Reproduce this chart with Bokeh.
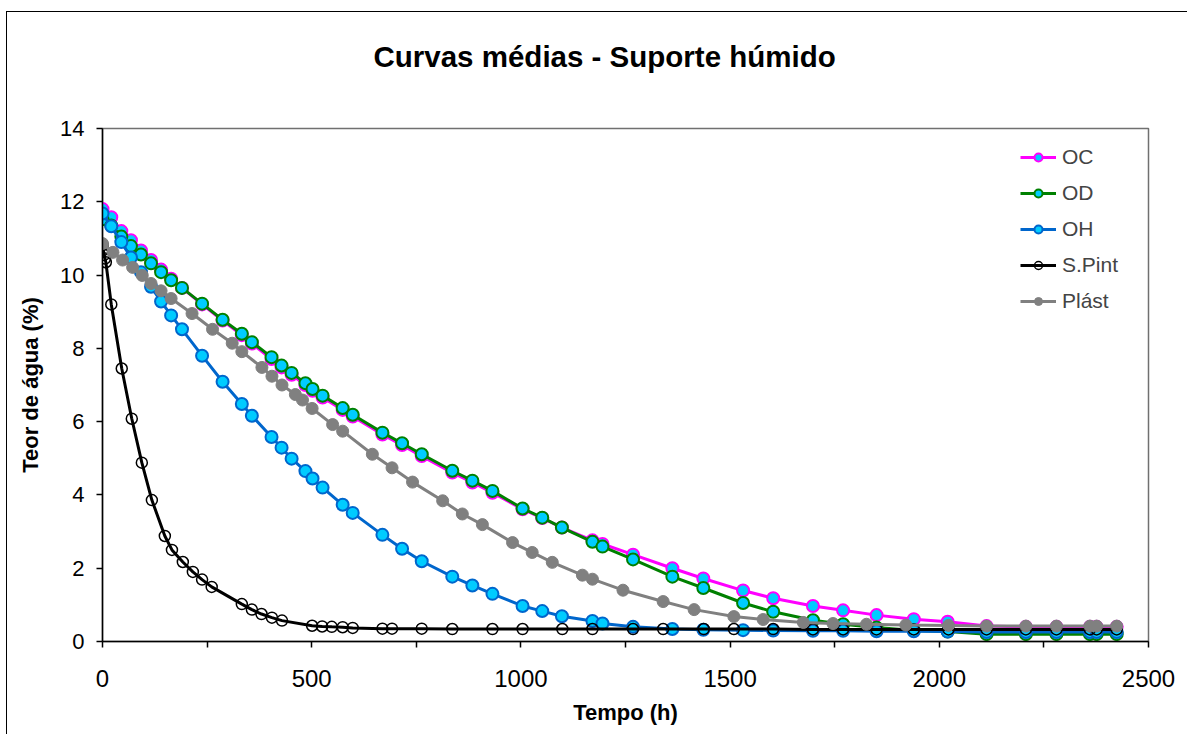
from bokeh.plotting import figure
from bokeh.models import Legend, LegendItem, FixedTicker, Range1d, LinearAxis
from bokeh.embed import file_html
from bokeh.resources import INLINE

# ---------------- data ----------------
series_names = ["OC", "OD", "OH", "S.Pint", "Plást"]

t_o = [0, 21, 45, 68, 92, 116, 140, 164, 190, 238, 287, 333, 357, 404, 428, 452, 485, 502, 526,
       574, 598, 669, 716, 763, 836, 884, 932, 1004, 1051, 1098, 1171, 1195, 1268, 1362, 1436, 1531,
       1603, 1698, 1770, 1850, 1939, 2020, 2113, 2207, 2280, 2360, 2376, 2424]

oc = [11.80, 11.58, 11.20, 10.95, 10.67, 10.41, 10.15, 9.90, 9.65, 9.20, 8.76, 8.36, 8.13, 7.71, 7.48,
      7.28, 7.00, 6.84, 6.66, 6.32, 6.14, 5.65, 5.36, 5.06, 4.61, 4.34, 4.06, 3.61, 3.37, 3.11, 2.76,
      2.66, 2.37, 2.00, 1.72, 1.39, 1.18, 0.97, 0.85, 0.72, 0.61, 0.54, 0.42, 0.40, 0.40, 0.40, 0.40, 0.40]

od = [11.52, 11.35, 11.05, 10.79, 10.56, 10.32, 10.08, 9.86, 9.65, 9.22, 8.78, 8.40, 8.17, 7.76, 7.53,
      7.33, 7.05, 6.89, 6.71, 6.37, 6.19, 5.70, 5.41, 5.11, 4.66, 4.39, 4.11, 3.63, 3.38, 3.11, 2.72,
      2.59, 2.24, 1.77, 1.46, 1.05, 0.81, 0.58, 0.47, 0.38, 0.30, 0.27, 0.20, 0.20, 0.20, 0.20, 0.20, 0.20]

oh = [11.68, 11.33, 10.90, 10.48, 10.08, 9.68, 9.28, 8.90, 8.52, 7.80, 7.09, 6.48, 6.16, 5.58, 5.29,
      4.99, 4.65, 4.45, 4.20, 3.73, 3.51, 2.91, 2.53, 2.19, 1.77, 1.53, 1.30, 0.97, 0.83, 0.69, 0.56,
      0.49, 0.40, 0.34, 0.32, 0.31, 0.30, 0.29, 0.29, 0.28, 0.28, 0.27, 0.26, 0.26, 0.26, 0.26, 0.26, 0.26]

t_sp = [0, 2, 4, 6, 8, 21, 46, 70, 94, 118, 149, 166, 192, 216, 238, 261, 333, 357, 380, 405,
        429, 501, 525, 548, 574, 598, 669, 692, 763, 836, 932, 1004, 1099, 1171, 1268, 1340, 1437,
        1509, 1603, 1698, 1770, 1850, 1939, 2022, 2113, 2207, 2280, 2360, 2376, 2424]

sp = [10.82, 10.68, 10.55, 10.45, 10.35, 9.20, 7.45, 6.08, 4.88, 3.86, 2.88, 2.50, 2.17, 1.90, 1.69,
      1.49, 1.02, 0.87, 0.75, 0.65, 0.57, 0.43, 0.41, 0.40, 0.39, 0.37, 0.35, 0.35, 0.35, 0.34, 0.34,
      0.34, 0.34, 0.34, 0.34, 0.34, 0.34, 0.34, 0.34, 0.33, 0.33, 0.33, 0.33, 0.33, 0.33, 0.33, 0.33,
      0.33, 0.33, 0.33]

t_pl = [0, 25, 48, 72, 95, 116, 140, 164, 214, 263, 310, 333, 381, 405, 429, 461, 478, 501, 550, 574,
        645, 692, 741, 813, 860, 908, 980, 1027, 1075, 1147, 1171, 1244, 1340, 1414, 1509, 1579, 1675,
        1746, 1826, 1920, 2022, 2113, 2207, 2280, 2360, 2376, 2424]

pl = [10.86, 10.62, 10.41, 10.21, 9.99, 9.77, 9.57, 9.36, 8.95, 8.52, 8.14, 7.91, 7.48, 7.24, 7.00,
      6.74, 6.59, 6.36, 5.92, 5.74, 5.11, 4.74, 4.35, 3.84, 3.48, 3.19, 2.70, 2.43, 2.16, 1.81, 1.70,
      1.40, 1.09, 0.87, 0.68, 0.60, 0.52, 0.49, 0.47, 0.45, 0.44, 0.42, 0.42, 0.42, 0.42, 0.42, 0.42]

x_ticks = [0, 500, 1000, 1500, 2000, 2500]
x_minor = [250, 750, 1250, 1750, 2250]
y_ticks = [0, 2, 4, 6, 8, 10, 12, 14]

title_text = "Curvas médias - Suporte húmido"
x_title = "Tempo (h)"
y_title = "Teor de água (%)"

# ---------------- figure ----------------
FONT = "Liberation Sans"
p = figure(width=1181, height=723, output_backend="svg", toolbar_location=None,
           x_range=Range1d(0, 2500), y_range=Range1d(0, 14),
           min_border_left=95, min_border_right=40, min_border_top=116, min_border_bottom=94)
p.styles = {"border-left": "1px solid black", "border-top": "1px solid black",
            "margin-left": "6px", "margin-top": "11px"}
p.xgrid.visible = False
p.ygrid.visible = False
p.outline_line_color = "#707070"
p.outline_line_width = 1.5
p.background_fill_color = "white"
p.border_fill_color = "white"

xa = p.below[0]
ya = p.left[0]
xa.ticker = FixedTicker(ticks=x_ticks, minor_ticks=x_minor)
ya.ticker = FixedTicker(ticks=y_ticks)
for ax in (xa, ya):
    ax.axis_line_color = "black"
    ax.axis_line_width = 1.5
    ax.major_tick_line_color = "black"
    ax.major_tick_line_width = 1.5
    ax.major_tick_in = 0
    ax.major_tick_out = 6
    ax.minor_tick_line_color = "black"
    ax.minor_tick_line_width = 1.5
    ax.minor_tick_in = 0
    ax.minor_tick_out = 6
    ax.major_label_text_font = FONT
    ax.major_label_text_color = "black"
    ax.axis_label_text_font = FONT
    ax.axis_label_text_font_size = "22px"
    ax.axis_label_text_font_style = "bold"
    ax.axis_label_text_color = "black"
xa.major_label_text_font_size = "24px"
ya.major_label_text_font_size = "22px"
ya.minor_tick_out = 0
xa.major_label_standoff = 22
ya.major_label_standoff = 12
xa.axis_label = x_title
ya.axis_label = y_title
xa.axis_label_standoff = 10
ya.axis_label_standoff = 14

# invisible spacer between the title and the plot area (one hidden tick gives it height)
spacer = LinearAxis(ticker=FixedTicker(ticks=[1250]), axis_line_alpha=0, major_tick_out=32,
                    major_tick_in=0, minor_tick_out=0, minor_tick_in=0,
                    major_tick_line_alpha=0, minor_tick_line_alpha=0, major_label_standoff=0,
                    major_label_overrides={1250: ""}, major_label_text_alpha=0)
p.add_layout(spacer, "above")

p.title.text = title_text
p.title.text_font = FONT
p.title.text_font_size = "29.5px"
p.title.text_font_style = "bold"
p.title.text_color = "black"
p.title.align = "left"
p.title.offset = 271
p.title.standoff = 48

CYAN = "#00CCFF"
styles = [
    ("#FF00FF", CYAN, "#FF00FF"),
    ("#008000", CYAN, "#008000"),
    ("#0066CC", CYAN, "#0066CC"),
]
data_sets = [(t_o, oc), (t_o, od), (t_o, oh)]
items = []
for name, (tt, vv), (lc, fc, mc) in zip(series_names[:3], data_sets, styles):
    l = p.line(tt, vv, line_color=lc, line_width=3)
    s = p.scatter(tt, vv, size=12, marker="circle", fill_color=fc, line_color=mc, line_width=2)
    items.append(LegendItem(label=name, renderers=[l, s]))

l = p.line(t_sp, sp, line_color="black", line_width=3)
s = p.scatter(t_sp, sp, size=11, marker="circle", fill_alpha=0, line_color="black", line_width=1.5)
items.append(LegendItem(label=series_names[3], renderers=[l, s]))

l = p.line(t_pl, pl, line_color="#808080", line_width=3)
s = p.scatter(t_pl, pl, size=12, marker="circle", fill_color="#808080", line_color="#808080", line_width=1)
items.append(LegendItem(label=series_names[4], renderers=[l, s]))

legend = Legend(items=items, location=(918, 328), glyph_width=36, glyph_height=20,
                label_height=20, spacing=12, padding=0, margin=0, label_standoff=6,
                label_text_font=FONT, label_text_font_size="21px",
                border_line_alpha=0, background_fill_alpha=0)
p.add_layout(legend)

open("out.html", "w").write(file_html(p, INLINE))
